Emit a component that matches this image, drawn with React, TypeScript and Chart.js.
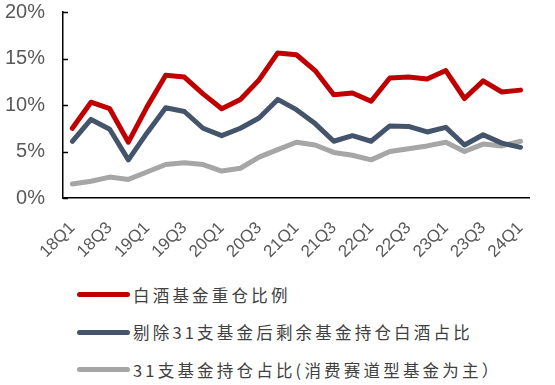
import React, { useEffect, useRef } from 'react';
import { Chart, registerables } from 'chart.js';

Chart.register(...registerables);

const quarters = [
  '18Q1', '18Q2', '18Q3', '18Q4',
  '19Q1', '19Q2', '19Q3', '19Q4',
  '20Q1', '20Q2', '20Q3', '20Q4',
  '21Q1', '21Q2', '21Q3', '21Q4',
  '22Q1', '22Q2', '22Q3', '22Q4',
  '23Q1', '23Q2', '23Q3', '23Q4',
  '24Q1',
];

// 白酒基金重仓比例 (%)
const baijiuHeavy = [7.5, 10.3, 9.6, 6.0, 9.8, 13.2, 13.0, 11.2, 9.6, 10.6, 12.7, 15.6, 15.4, 13.7, 11.1, 11.3, 10.4, 12.9, 13.0, 12.8, 13.7, 10.7, 12.6, 11.4, 11.6];
// 剔除31支基金后剩余基金持仓白酒占比 (%)
const excluding31 = [6.1, 8.45, 7.4, 4.1, 7.0, 9.7, 9.3, 7.5, 6.7, 7.5, 8.6, 10.6, 9.5, 8.0, 6.1, 6.7, 6.1, 7.75, 7.7, 7.1, 7.6, 5.7, 6.8, 5.9, 5.45];
// 31支基金持仓占比 (%)
const fund31 = [1.5, 1.8, 2.25, 2.0, 2.8, 3.6, 3.8, 3.6, 2.9, 3.2, 4.4, 5.2, 6.0, 5.7, 4.9, 4.6, 4.1, 5.0, 5.3, 5.6, 6.0, 5.0, 5.8, 5.6, 6.1];

const seriesNames = [
  '白酒基金重仓比例',
  '剔除31支基金后剩余基金持仓白酒占比',
  '31支基金持仓占比(消费赛道型基金为主）',
];
const seriesData = [baijiuHeavy, excluding31, fund31];

const yTickValues = [0, 5, 10, 15, 20];

const seriesColors = ['#C00000', '#44546A', '#A6A6A6'];
const labelColor = '#595959';
const font = "'Liberation Sans', Arial, sans-serif";

const innerTicks = {
  id: 'innerTicks',
  beforeDatasetsDraw(chart: any) {
    const y = chart.scales.y;
    const ctx = chart.ctx;
    ctx.save();
    ctx.strokeStyle = '#000';
    ctx.lineWidth = 1.5;
    y.ticks.forEach((_t: any, i: number) => {
      const py = Math.round(y.getPixelForTick(i)) + 0.5;
      ctx.beginPath();
      ctx.moveTo(y.right, py);
      ctx.lineTo(y.right + 5, py);
      ctx.stroke();
    });
    ctx.restore();
  },
};

export default function App() {
  const canvasRef = useRef<HTMLCanvasElement | null>(null);

  useEffect(() => {
    if (!canvasRef.current) return;
    const chart = new Chart(canvasRef.current, {
      type: 'line',
      data: {
        labels: quarters,
        datasets: seriesNames.map((name, i) => ({
          label: name,
          data: seriesData[i],
          borderColor: seriesColors[i],
          backgroundColor: seriesColors[i],
          borderWidth: 5,
          pointRadius: 0,
          tension: 0,
          borderJoinStyle: 'round' as const,
          borderCapStyle: 'round' as const,
          fill: false,
        })),
      },
      plugins: [innerTicks],
      options: {
        animation: false,
        responsive: true,
        maintainAspectRatio: false,
        layout: { padding: { top: 0, right: 4, left: 0, bottom: 0 } },
        plugins: {
          legend: { display: false },
          tooltip: { enabled: false },
        },
        scales: {
          x: {
            type: 'category',
            offset: true,
            grid: { display: false, drawTicks: false },
            border: { display: true, color: '#000', width: 1.5 },
            afterFit: (scale: any) => { scale.height = 74; },
            ticks: {
              autoSkip: false,
              maxRotation: 45,
              minRotation: 45,
              padding: 20,
              color: labelColor,
              font: { family: font, size: 17 },
              callback: (_v: any, idx: number) => (idx % 2 === 0 ? quarters[idx] : ''),
            },
          },
          y: {
            min: 0,
            max: 20,
            grid: { display: false, drawTicks: true, tickLength: 18 },
            border: { display: true, color: '#000', width: 1.5 },
            afterFit: (scale: any) => { scale.width = 63; },
            afterBuildTicks: (scale: any) => {
              scale.ticks = yTickValues.map((v) => ({ value: v }));
            },
            ticks: {
              padding: 0,
              color: labelColor,
              font: { family: font, size: 20 },
              callback: (v: any) => `${v}%`,
            },
          },
        },
      },
    });
    return () => chart.destroy();
  }, []);

  return (
    <div style={{ position: 'absolute', left: 0, top: 0, width: 555, height: 385, background: '#fff', overflow: 'hidden' }}>
      <div style={{ position: 'absolute', left: 0, top: 0, width: 555, height: 272 }}>
        <canvas ref={canvasRef} />
      </div>
      <div style={{ position: 'absolute', left: 0, top: 276, width: 555 }}>
        {seriesNames.map((name, i) => (
          <div key={name} style={{ display: 'flex', alignItems: 'center', height: 37.5 }}>
            <div style={{ marginLeft: 77, width: 53, height: 5, borderRadius: 3, background: seriesColors[i] }} />
            <span style={{ marginLeft: 3, fontFamily: "'Noto Sans CJK SC', 'Liberation Sans', sans-serif", fontSize: 16.5, letterSpacing: 3.2, color: '#404040', whiteSpace: 'nowrap' }}>
              {name}
            </span>
          </div>
        ))}
      </div>
    </div>
  );
}
